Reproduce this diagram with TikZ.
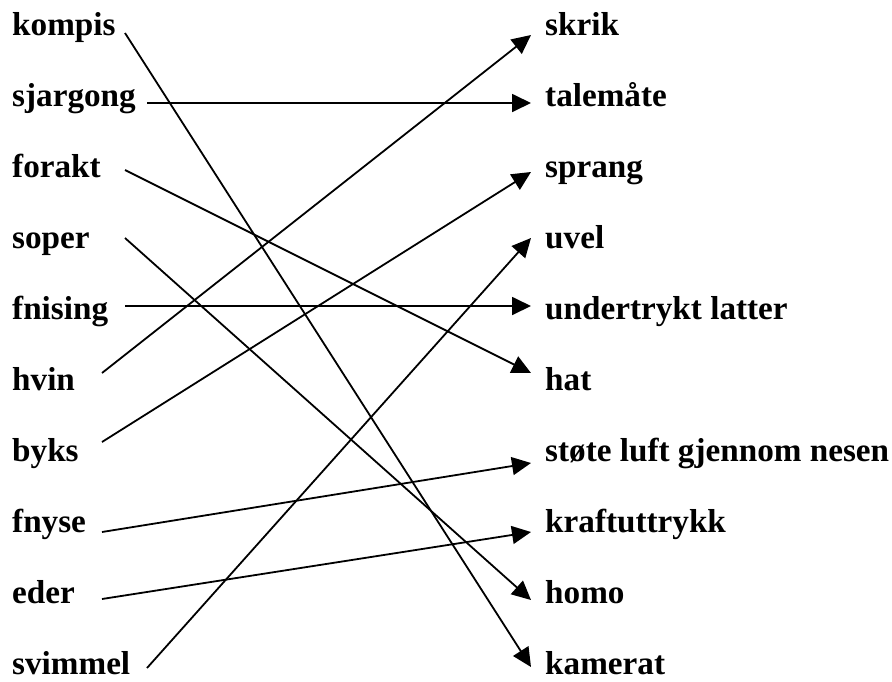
\documentclass[tikz,border=0pt]{standalone}
\usepackage{fontspec}
\setmainfont{Liberation Serif}
\usetikzlibrary{arrows.meta}

\begin{document}
\begin{tikzpicture}[
  x=1pt, y=1pt,
  every node/.style={font=\bfseries\fontsize{33.2}{38}\selectfont, inner sep=0pt, anchor=base west},
  link/.style={line width=1.8pt, -{Triangle[length=19pt, width=18pt]}}
]
\useasboundingbox (0,0) rectangle (892,-681);

% left column
\node (kompis)   at (12,-35)  {kompis};
\node (sjargong) at (12,-106) {sjargong};
\node (forakt)   at (12,-177) {forakt};
\node (soper)    at (12,-248) {soper};
\node (fnising)  at (12,-319) {fnising};
\node (hvin)     at (12,-390) {hvin};
\node (byks)     at (12,-461) {byks};
\node (fnyse)    at (12,-532) {fnyse};
\node (eder)     at (12,-603) {eder};
\node (svimmel)  at (12,-674) {svimmel};

% right column
\node (skrik)    at (545,-35)  {skrik};
\node (talemate) at (545,-106) {talemåte};
\node (sprang)   at (545,-177) {sprang};
\node (uvel)     at (545,-248) {uvel};
\node (latter)   at (545,-319) {undertrykt latter};
\node (hat)      at (545,-390) {hat};
\node (stote)    at (545,-461) {støte luft gjennom nesen};
\node (kraft)    at (545,-532) {kraftuttrykk};
\node (homo)     at (545,-603) {homo};
\node (kamerat)  at (545,-674) {kamerat};

\draw[link] ([shift={(113pt,2pt)}]kompis.base west)   -- ([shift={(-14pt,7pt)}]kamerat.base west);
\draw[link] ([shift={(135pt,3pt)}]sjargong.base west) -- ([shift={(-14pt,3pt)}]talemate.base west);
\draw[link] ([shift={(113pt,7pt)}]forakt.base west)   -- ([shift={(-14pt,17pt)}]hat.base west);
\draw[link] ([shift={(113pt,10pt)}]soper.base west)   -- ([shift={(-14pt,3pt)}]homo.base west);
\draw[link] ([shift={(113pt,13pt)}]fnising.base west) -- ([shift={(-14pt,13pt)}]latter.base west);
\draw[link] ([shift={(90pt,17pt)}]hvin.base west)     -- ([shift={(-14pt,0pt)}]skrik.base west);
\draw[link] ([shift={(90pt,19pt)}]byks.base west)     -- ([shift={(-14pt,5pt)}]sprang.base west);
\draw[link] ([shift={(90pt,0pt)}]fnyse.base west)     -- ([shift={(-14pt,-2pt)}]stote.base west);
\draw[link] ([shift={(90pt,4pt)}]eder.base west)      -- ([shift={(-14pt,0pt)}]kraft.base west);
\draw[link] ([shift={(135pt,6pt)}]svimmel.base west)  -- ([shift={(-14pt,10pt)}]uvel.base west);

\end{tikzpicture}
\end{document}
